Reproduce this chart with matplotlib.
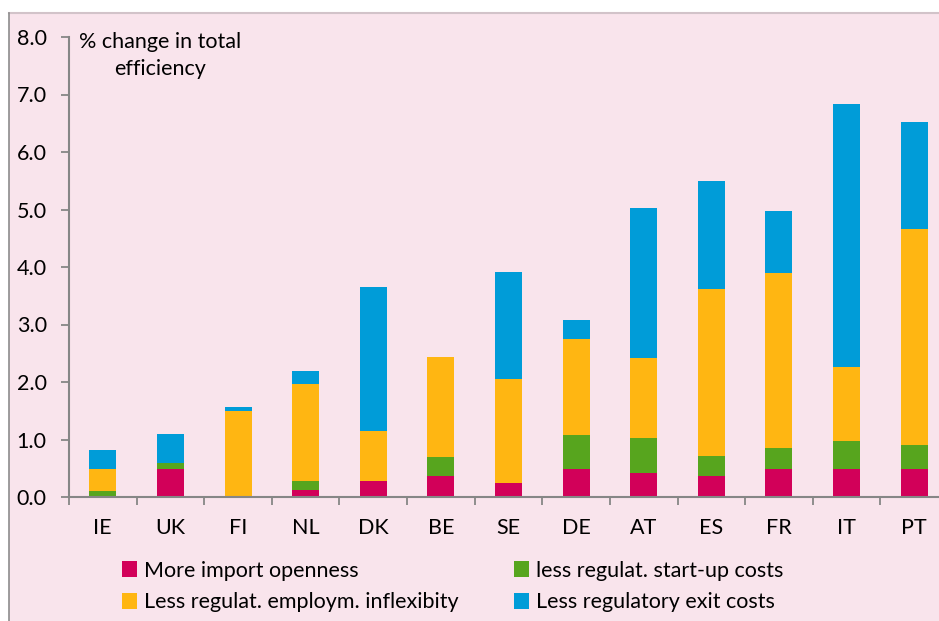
import numpy as np
import matplotlib
matplotlib.use("Agg")
import matplotlib.pyplot as plt
from matplotlib.patches import Rectangle
from matplotlib.lines import Line2D

plt.rcParams['font.family'] = ['Lato', 'DejaVu Sans']

# Data (% change in total efficiency)
countries = ['IE', 'UK', 'FI', 'NL', 'DK', 'BE', 'SE', 'DE', 'AT', 'ES', 'FR', 'IT', 'PT']
import_open = [0.00, 0.49, 0.00, 0.13, 0.28, 0.37, 0.25, 0.49, 0.42, 0.37, 0.49, 0.49, 0.49]
startup = [0.11, 0.10, 0.00, 0.15, 0.00, 0.32, 0.00, 0.58, 0.61, 0.34, 0.36, 0.49, 0.42]
employ = [0.38, 0.00, 1.50, 1.68, 0.86, 1.74, 1.80, 1.68, 1.38, 2.91, 3.05, 1.28, 3.75]
exit_costs = [0.33, 0.51, 0.06, 0.24, 2.51, 0.00, 1.86, 0.32, 2.62, 1.87, 1.08, 4.57, 1.86]

labels = ['More import openness', 'less regulat. start-up costs',
          'Less regulat. employm. inflexibity', 'Less regulatory exit costs']
colors = ['#D20059', '#57A51E', '#FFB612', '#009CD8']
yticks = [0.0, 1.0, 2.0, 3.0, 4.0, 5.0, 6.0, 7.0, 8.0]

W, H = 939, 621
FS = 15.5
fig = plt.figure(figsize=(W / 100, H / 100), dpi=100, facecolor='white')

# pink panel with its border
fig.patches.append(Rectangle((8.5 / W, 0), 1, 1 - 12.5 / H, transform=fig.transFigure,
                             facecolor='#F9E4EC', edgecolor='none', zorder=-5))
fig.lines.append(Line2D([8.5 / W, 1], [1 - 12.5 / H] * 2, transform=fig.transFigure,
                        color='#D2C3C9', lw=1.5))
fig.lines.append(Line2D([8.5 / W] * 2, [0, 1 - 12.5 / H], transform=fig.transFigure,
                        color='#8C8C8C', lw=1.2))

ax = fig.add_axes([69 / W, 1 - 497 / H, 879 / W, (497 - 37) / H])
ax.set_facecolor('none')

x = np.arange(len(countries))
bottom = np.zeros(len(countries))
series = [import_open, startup, employ, exit_costs]
handles = []
for vals, c, lab in zip(series, colors, labels):
    b = ax.bar(x, vals, width=0.4, bottom=bottom, color=c, label=lab, zorder=2)
    handles.append(b)
    bottom += np.array(vals)

ax.set_xlim(-0.5, len(countries) - 0.5)
ax.set_ylim(0, 8.0)
ax.set_yticks(yticks)
ax.set_yticklabels([f'{v:.1f}' for v in yticks], fontsize=FS)
ax.set_xticks(x)
ax.set_xticklabels(countries, fontsize=FS)
ax.set_xticks(np.arange(-0.5, len(countries) + 0.5, 1), minor=True)
ax.tick_params(axis='x', which='major', length=0, pad=15)
ax.tick_params(axis='x', which='minor', length=6, color='#868686', width=1.3)
ax.tick_params(axis='y', length=6, color='#868686', width=1.3, pad=10)

for s in ['top', 'right']:
    ax.spines[s].set_visible(False)
for s in ['left', 'bottom']:
    ax.spines[s].set_color('#868686')
    ax.spines[s].set_linewidth(1.5)

fig.text(160 / W, 1 - 32 / H, '% change in total\nefficiency', ha='center', va='top',
         fontsize=FS, linespacing=1.45)

# legend: column-major order -> red, yellow | green, blue
order = [0, 2, 1, 3]
fig.legend([handles[i] for i in order], [labels[i] for i in order], ncol=2,
           loc='upper left', bbox_to_anchor=(113 / W, 1 - 552 / H), frameon=False,
           fontsize=FS, handlelength=0.7, handleheight=0.8, handletextpad=0.35,
           columnspacing=2.55, labelspacing=0.55, borderaxespad=0)

fig.savefig('out.png', dpi=100, facecolor='white')
